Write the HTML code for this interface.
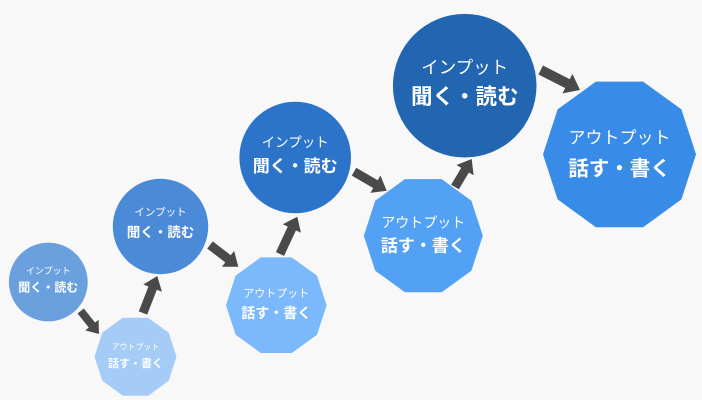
<!DOCTYPE html>
<html><head><meta charset="utf-8"><style>
html,body{margin:0;padding:0;background:#f8f8f8;width:702px;height:400px;overflow:hidden}
svg{display:block}
text{font-family:"Liberation Sans","Noto Sans CJK JP",sans-serif;fill:#fff;text-anchor:middle;dominant-baseline:central}
.b{font-weight:bold}
</style></head><body>
<svg width="702" height="400" viewBox="0 0 702 400" xmlns="http://www.w3.org/2000/svg">
<rect width="702" height="400" fill="#f8f8f8"/>
<!-- arrows -->
<g fill="#4a4a4a">
<g transform="translate(80.7,311) rotate(51.5)"><rect x="0" y="-4" width="19" height="8"/><polygon points="18,-8.5 29.4,0 18,8.5"/></g>
<g transform="translate(143,313) rotate(-68.9)"><rect x="0" y="-4.5" width="27.5" height="9"/><polygon points="26.7,-10 39.7,0 26.7,10"/></g>
<g transform="translate(210,245) rotate(37.5)"><rect x="0" y="-4.5" width="23.5" height="9"/><polygon points="22.7,-10 35.7,0 22.7,10"/></g>
<g transform="translate(280,254) rotate(-65.1)"><rect x="0" y="-4.5" width="29" height="9"/><polygon points="28.1,-10 41.1,0 28.1,10"/></g>
<g transform="translate(354,171.7) rotate(30.2)"><rect x="0" y="-4.5" width="25.5" height="9"/><polygon points="24.8,-10 37.8,0 24.8,10"/></g>
<g transform="translate(455,187) rotate(-59.2)"><rect x="0" y="-4.5" width="20.5" height="9"/><polygon points="19.6,-10 32.6,0 19.6,10"/></g>
<g transform="translate(540.7,70) rotate(27)"><rect x="0" y="-5" width="31" height="10"/><polygon points="30,-11 44.1,0 30,11"/></g>
</g>
<!-- circles -->
<circle cx="48.3" cy="282" r="39.4" fill="#6aa0de"/>
<circle cx="160.5" cy="226.5" r="47.7" fill="#4a8ad6"/>
<circle cx="295.2" cy="157.5" r="55.8" fill="#2b74ca"/>
<circle cx="464.7" cy="85.7" r="71.8" fill="#2265b0"/>
<!-- decagons -->
<polygon fill="#a5cbf7" points="176.5,356.7 168.7,380.8 148.2,395.7 122.8,395.7 102.3,380.8 94.5,356.7 102.3,332.6 122.8,317.7 148.2,317.7 168.7,332.6"/>
<polygon fill="#7bb8fc" points="326.6,305.2 317.0,334.8 291.8,353.0 260.8,353.0 235.6,334.8 226.0,305.2 235.6,275.6 260.8,257.4 291.8,257.4 317.0,275.6"/>
<polygon fill="#52a1f5" points="482.8,235.7 471.4,270.7 441.7,292.3 404.9,292.3 375.2,270.7 363.8,235.7 375.2,200.7 404.9,179.1 441.7,179.1 471.4,200.7"/>
<polygon fill="#388be6" points="696,154.4 681.4,199.4 643.1,227.2 595.9,227.2 557.6,199.4 543,154.4 557.6,109.4 595.9,81.6 643.1,81.6 681.4,109.4"/>
<!-- texts -->
<text x="48.3" y="271" font-size="9">インプット</text>
<text x="48.3" y="287.5" font-size="12" class="b">聞く・読む</text>
<text x="135.5" y="347" font-size="8">アウトプット</text>
<text x="135.5" y="364" font-size="11" class="b">話す・書く</text>
<text x="160.5" y="212.7" font-size="10.5">インプット</text>
<text x="160.5" y="232.3" font-size="13.5" class="b">聞く・読む</text>
<text x="276.3" y="294" font-size="11">アウトプット</text>
<text x="276.3" y="313" font-size="14" class="b">話す・書く</text>
<text x="295.2" y="142.7" font-size="13.5">インプット</text>
<text x="295.2" y="166.7" font-size="17" class="b">聞く・読む</text>
<text x="423.3" y="222.5" font-size="14">アウトプット</text>
<text x="423.3" y="246" font-size="17" class="b">話す・書く</text>
<text x="464.7" y="67.5" font-size="17.5">インプット</text>
<text x="464.7" y="97" font-size="21.5" class="b">聞く・読む</text>
<text x="619.5" y="138" font-size="17">アウトプット</text>
<text x="619.5" y="168.8" font-size="20.5" class="b">話す・書く</text>
</svg>
</body></html>
